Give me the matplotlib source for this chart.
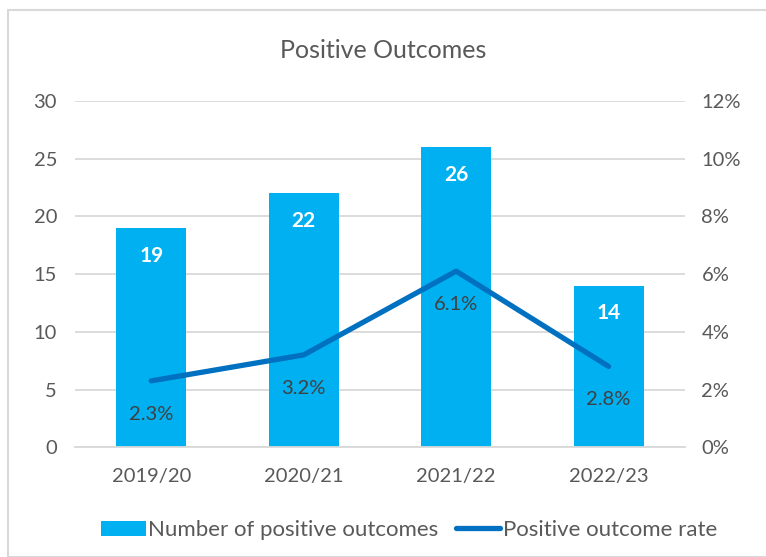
import matplotlib.pyplot as plt
import numpy as np
from matplotlib.patches import Rectangle
from matplotlib.ticker import FuncFormatter

plt.rcParams['font.family'] = ['Lato', 'DejaVu Sans']

# data
years = ['2019/20', '2020/21', '2021/22', '2022/23']
outcomes = [19, 22, 26, 14]
rate = [0.023, 0.032, 0.061, 0.028]

bar_col = '#00B0F0'
line_col = '#0070C0'
txt_col = '#595959'

fig = plt.figure(figsize=(7.66, 5.57), dpi=100)
ax = fig.add_axes([0.098, 0.197, 0.796, 0.622])
ax2 = ax.twinx()

x = np.arange(len(years))
bars = ax.bar(x, outcomes, width=0.46, color=bar_col, zorder=2, label='Number of positive outcomes')
ln, = ax2.plot(x, rate, color=line_col, lw=3.8, solid_capstyle='round', zorder=3,
               label='Positive outcome rate')

ax.set_xlim(-0.5, 3.5)
ax.set_ylim(0, 30)
ax.set_yticks(range(0, 31, 5))
ax2.set_ylim(0, 0.12)
ax2.set_yticks(np.arange(0, 0.121, 0.02))
ax2.yaxis.set_major_formatter(FuncFormatter(lambda v, p: f'{v*100:.0f}%'))

ax.set_xticks(x)
ax.set_xticklabels(years)
ax.yaxis.grid(True, color='#d9d9d9', lw=1.3, zorder=0)
ax.set_axisbelow(True)
for a in (ax, ax2):
    for s in a.spines.values():
        s.set_visible(False)
    a.tick_params(length=0, labelsize=14.5, colors=txt_col)
ax.spines['bottom'].set_visible(True)
ax.spines['bottom'].set_color('#d9d9d9')
ax.spines['bottom'].set_linewidth(1.3)
ax.tick_params(axis='x', pad=15)
ax.tick_params(axis='y', pad=13)
ax2.tick_params(axis='y', pad=12)

# labels
for xi, v in zip(x, outcomes):
    ax.annotate(str(v), (xi, v), xytext=(0, -20), textcoords='offset points',
                ha='center', va='center', color='white', fontweight='bold', fontsize=15)
for xi, r in zip(x, rate):
    ax2.annotate(f'{r*100:.1f}%', (xi, r), xytext=(0, -24), textcoords='offset points',
                 ha='center', va='center', color='#404040', fontsize=14.5)

fig.text(0.5, 0.91, 'Positive Outcomes', ha='center', va='center', fontsize=18, color=txt_col)

fig.legend(handles=[bars, ln], loc='center', bbox_to_anchor=(0.534, 0.048), ncol=2,
           frameon=False, fontsize=16, handlelength=2.0, handletextpad=0.1,
           columnspacing=0.8, labelcolor=txt_col)

fig.patches.append(Rectangle((8/766, 0), 1.0, 1 - 10/557, transform=fig.transFigure,
                             fill=False, edgecolor='#d9d9d9', lw=1.5))

fig.savefig('out.png', dpi=100)
